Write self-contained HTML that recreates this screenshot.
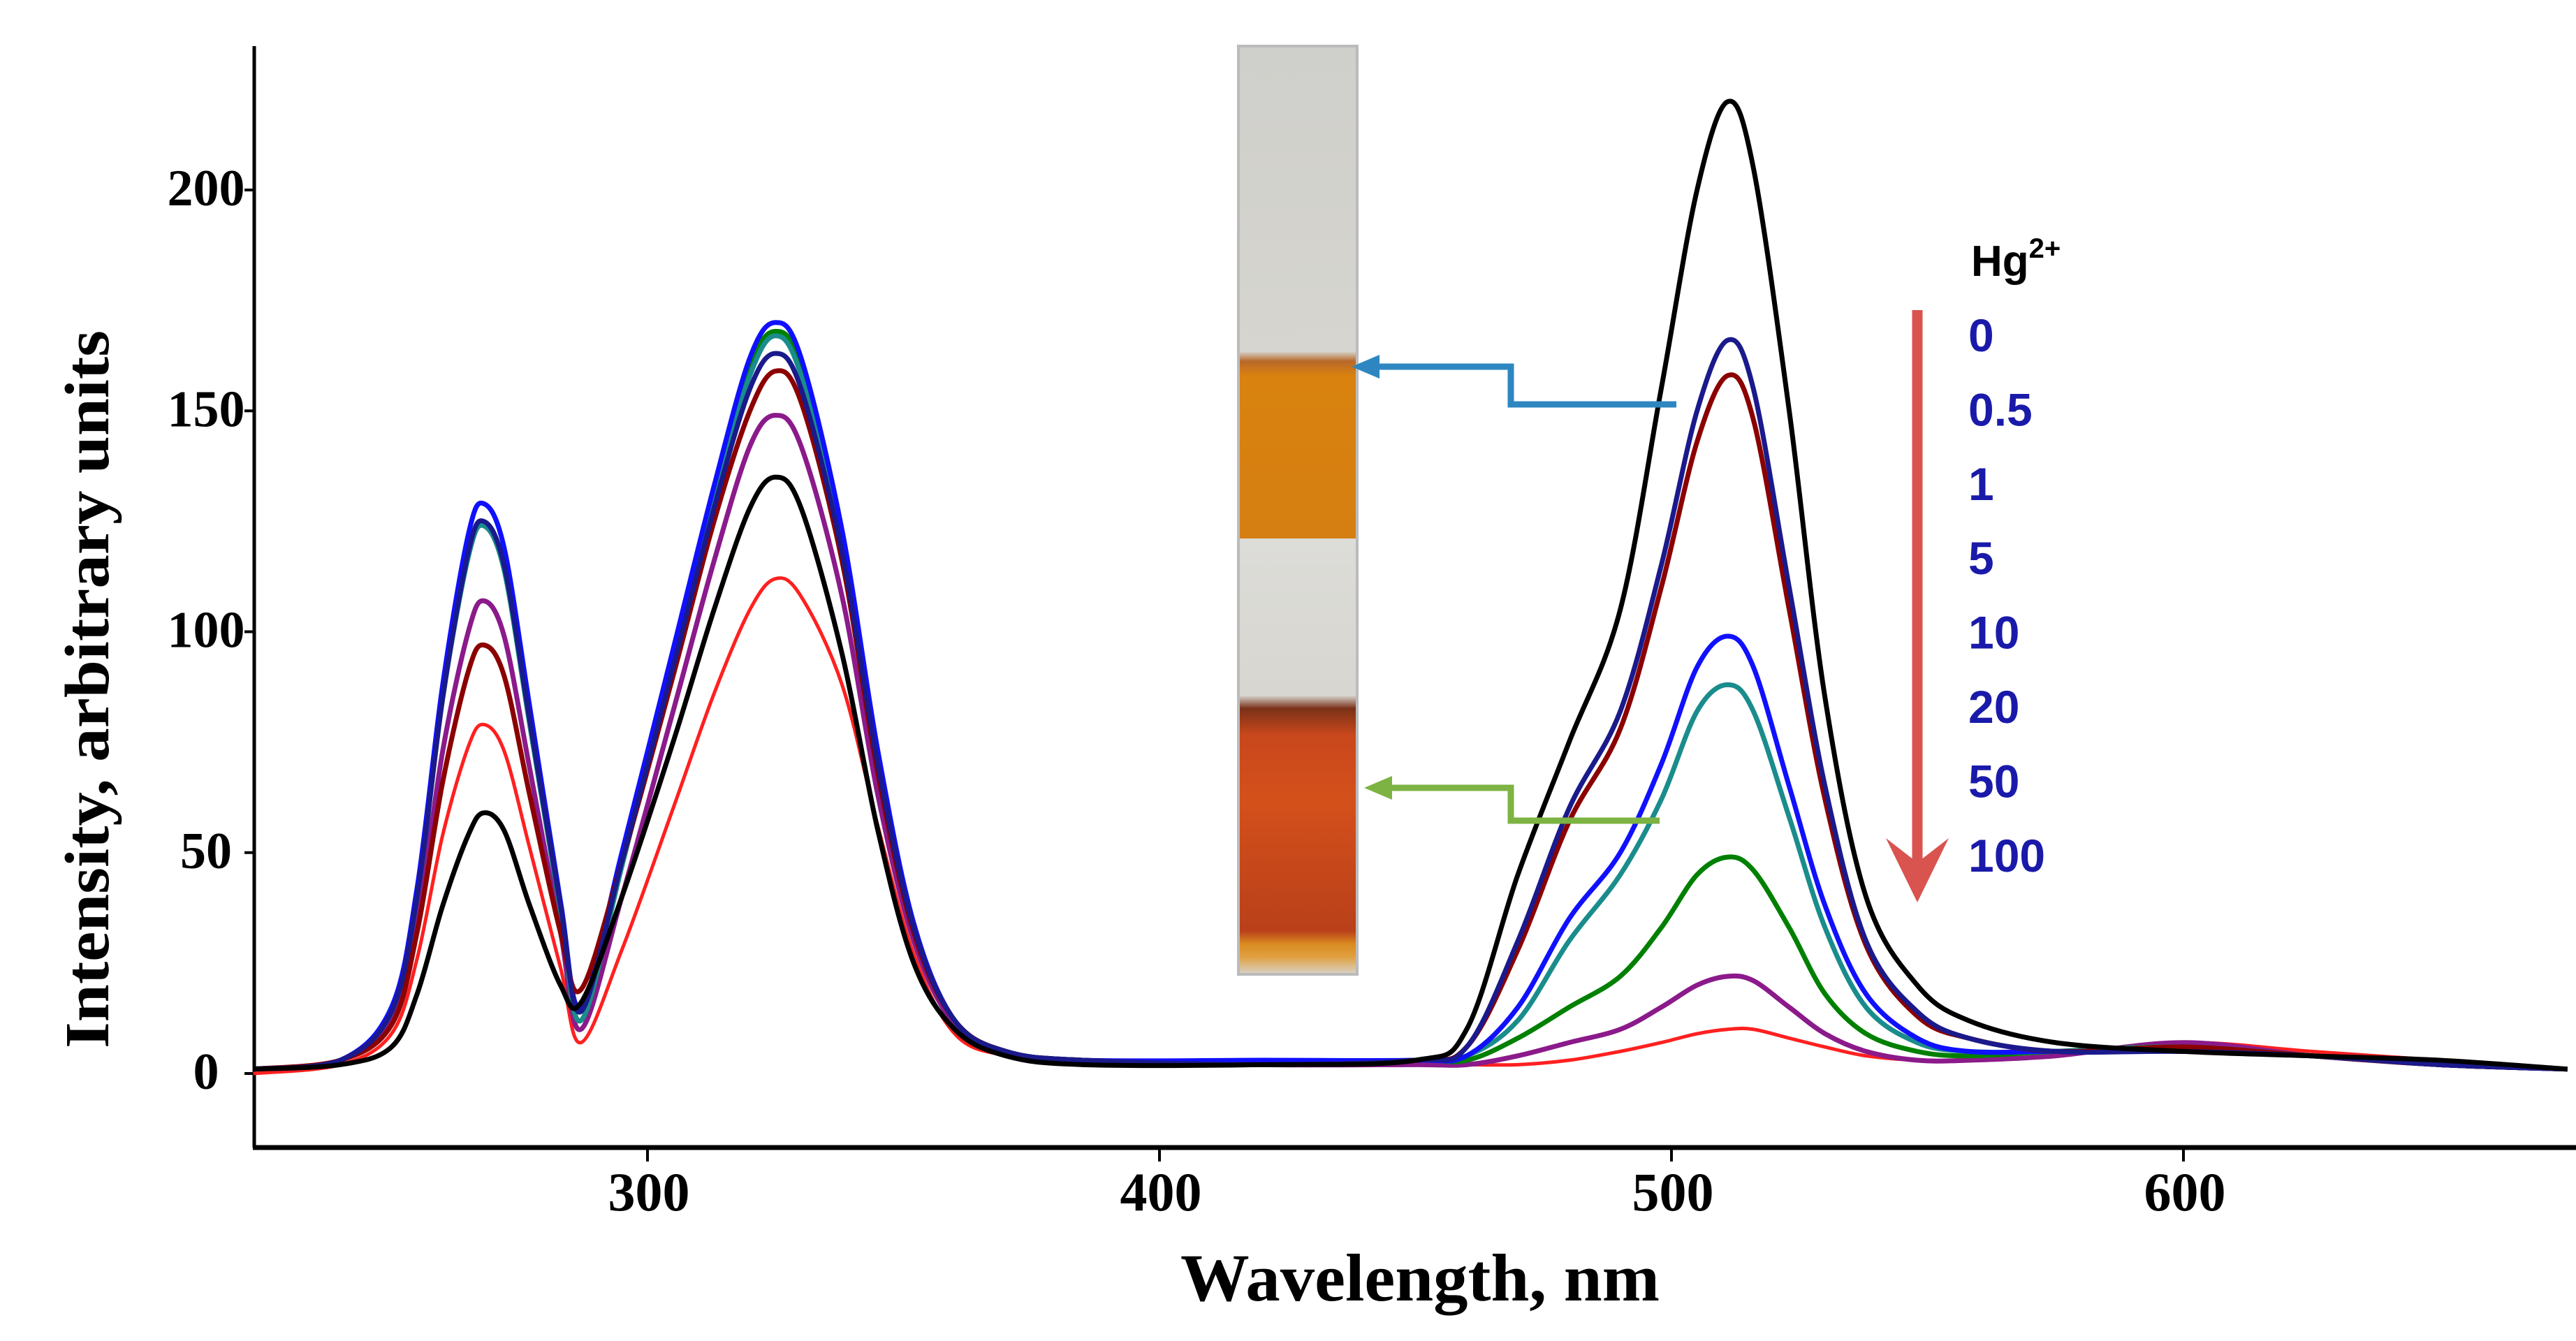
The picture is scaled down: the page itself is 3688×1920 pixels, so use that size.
<!DOCTYPE html>
<html><head><meta charset="utf-8"><style>
html,body{margin:0;padding:0;background:#fff}
svg{display:block}
</style></head><body>
<svg id="chart" width="3688" height="1920" viewBox="0 0 3688 1920" xmlns="http://www.w3.org/2000/svg">
<defs>
<linearGradient id="cuv1" x1="0" y1="0" x2="0" y2="1">
<stop offset="0" stop-color="#cfcfcb"/><stop offset="0.62" stop-color="#d6d5cf"/><stop offset="0.64" stop-color="#b8692a"/><stop offset="0.67" stop-color="#d9820f"/><stop offset="1" stop-color="#d57f12"/></linearGradient>
<linearGradient id="cuv2" x1="0" y1="0" x2="0" y2="1">
<stop offset="0" stop-color="#dcdcd8"/><stop offset="0.36" stop-color="#d8d6d0"/><stop offset="0.39" stop-color="#7a3118"/><stop offset="0.45" stop-color="#c8471c"/><stop offset="0.6" stop-color="#d4501b"/><stop offset="0.9" stop-color="#b9401a"/><stop offset="0.93" stop-color="#d98a20"/><stop offset="0.96" stop-color="#e0a040"/><stop offset="1" stop-color="#d8d4cc"/></linearGradient>
</defs>
<g id="axes"></g>
<g id="series"></g>
<g>
<rect x="1773" y="66" width="170" height="705" fill="url(#cuv1)"/>
<rect x="1773" y="771" width="170" height="624" fill="url(#cuv2)"/>
<rect x="1773" y="66" width="170" height="1329" fill="none" stroke="#bbb" stroke-width="4"/>
</g>
<g fill="none" stroke="#2e86c1" stroke-width="9">
<polyline points="2400,579 2163,579 2163,525 1960,525"/>
<polygon points="1935,525 1975,508 1975,542" fill="#2e86c1" stroke="none"/>
</g>
<g fill="none" stroke="#7cb342" stroke-width="9">
<polyline points="2376,1175 2163,1175 2163,1128 1978,1128"/>
<polygon points="1953,1128 1993,1111 1993,1145" fill="#7cb342" stroke="none"/>
</g>
<g font-family="'Liberation Sans',sans-serif" font-weight="bold">
<text x="2822" y="395" font-size="62" fill="#000">Hg<tspan dy="-26" font-size="40">2+</tspan></text>
<g id="legendvals"></g>
<line x1="2745" y1="444" x2="2745" y2="1240" stroke="#d9534f" stroke-width="15"/>
<polygon points="2700,1200 2745,1292 2790,1200 2745,1235" fill="#d9534f"/>
</g>
</svg>
<script>
const wavelengths=[223,240,250,255,260,265,268,272,277,283,287,295,305,313,320,325,330,338,345,352,360,370,385,420,450,460,470,480,490,498,505,511,516,523,530,538,548,558,575,600,625,650,675];
const s0=[1,2,6,18,38,54,59,55,38,20,16,40,75,105,128,135,128,95,55,25,10,4,2,2,3,10,45,75,105,155,200,220,205,150,85,40,20,12,7,5,4,3,1];
const s05=[1,3,14,40,85,118,125,115,80,38,14,48,92,128,155,163,155,118,70,33,12,5,3,2,3,6,30,60,82,115,150,166,155,110,65,30,14,8,5,5,4,2,1];
const s1=[1,3,11,32,66,91,97,90,63,32,19,48,90,125,150,159,152,116,68,32,12,5,3,2,3,6,28,57,78,110,143,158,148,105,62,29,13,8,5,6,4,2,1];
const s5=[1,3,15,42,88,122,129,119,83,39,15,50,96,133,162,170,162,123,73,34,12,5,3,3,3,4,15,35,50,70,92,99,92,65,38,18,8,5,5,5,4,2,1];
const s10=[1,3,14,40,85,117,124,114,79,37,12,47,93,130,158,167,158,120,71,33,12,5,3,2,3,4,12,30,45,62,82,88,82,58,33,15,7,5,5,6,4,2,1];
const s20=[1,3,14,40,85,117,124,114,79,37,12,47,93,131,160,168,160,121,71,33,12,5,3,2,3,3,8,15,22,33,45,49,46,33,18,9,5,4,5,6,4,2,1];
const s50=[1,3,12,34,73,100,107,99,69,32,10,40,82,116,142,149,142,108,63,30,11,4,3,2,2,2,4,7,10,15,20,22,21,15,9,5,3,3,4,7,4,2,1];
const s100=[0,2,9,26,54,74,79,73,51,24,7,28,60,86,105,112,108,88,56,27,9,4,2,2,2,2,2,3,5,7,9,10,10,8,6,4,3,3,4,7,5,3,1];
const concentrations=["0","0.5","1","5","10","20","50","100"];
const xTicks=[300,400,500,600];
const yTicks=[0,50,100,150,200];

const NS="http://www.w3.org/2000/svg";
const X0=364,X1=3680,Y0=66,YA=1643;
const xs=w=>927+(w-300)*7.33;
const ys=v=>1537-v*6.325;
function mk(tag,attrs,parent){const e=document.createElementNS(NS,tag);for(const k in attrs)e.setAttribute(k,attrs[k]);parent.appendChild(e);return e;}
const axes=document.getElementById('axes');
const yl=mk('line',{x1:X0,y1:Y0,x2:X0,y2:YA,stroke:'#000','stroke-width':5},axes);


const xl=mk('line',{x1:X0-2,y1:YA,x2:X1+8,y2:YA,stroke:'#000','stroke-width':7},axes);


xTicks.forEach(t=>{
 const l=mk('line',{x1:xs(t),y1:YA,x2:xs(t),y2:YA+20,stroke:'#000','stroke-width':4},axes);
 
 
 const tx=mk('text',{x:xs(t)+2,y:1733,'text-anchor':'middle','font-family':"'Liberation Serif',serif",'font-weight':'bold','font-size':78},axes);
 tx.textContent=t;
 
 
});
yTicks.forEach(t=>{
 const l=mk('line',{x1:X0-14,y1:ys(t),x2:X0,y2:ys(t),stroke:'#000','stroke-width':4},axes);
 
 
 const tx=mk('text',{x:295,y:ys(t)+22,'text-anchor':'middle','font-family':"'Liberation Serif',serif",'font-weight':'bold','font-size':74},axes);
 tx.textContent=t;
 
 
});
const xt=mk('text',{x:2033,y:1862,'text-anchor':'middle','font-family':"'Liberation Serif',serif",'font-weight':'bold','font-size':96,textLength:686,lengthAdjust:'spacingAndGlyphs'},axes);
xt.textContent='Wavelength, nm';


const yt=mk('text',{x:0,y:0,'text-anchor':'middle','font-family':"'Liberation Serif',serif",'font-weight':'bold','font-size':90,textLength:1028,lengthAdjust:'spacingAndGlyphs',transform:'translate(155,987) rotate(-90)'},axes);
yt.textContent='Intensity, arbitrary units';



function pathFor(vals){
 const p=wavelengths.map((w,i)=>[xs(w),ys(vals[i])]);
 let d='M'+p[0][0]+','+p[0][1];
 for(let i=0;i<p.length-1;i++){
  const a=p[Math.max(0,i-1)],b=p[i],c=p[i+1],e=p[Math.min(p.length-1,i+2)];
  const c1=[b[0]+(c[0]-a[0])/6,b[1]+(c[1]-a[1])/6],c2=[c[0]-(e[0]-b[0])/6,c[1]-(e[1]-b[1])/6];
  d+=' C'+c1.join(',')+' '+c2.join(',')+' '+c.join(',');
 }
 return d;
}
const series=document.getElementById('series');
const list=[[s100,'#ff2020',5],[s50,'#8b1a8b',7],[s20,'#008000',7],[s10,'#1a8c8c',7],[s5,'#1010ff',7],[s1,'#8b0000',7],[s05,'#1a1a8c',7],[s0,'#000000',7]];
list.forEach(([v,c,w],i)=>{
 const p=mk('path',{d:pathFor(v),fill:'none',stroke:c,'stroke-width':w,'stroke-linejoin':'round'},series);
 
 
});
const lv=document.getElementById('legendvals');
concentrations.forEach((c,i)=>{
 const t=mk('text',{x:2818,y:503+i*106.4,'font-size':66,fill:'#1a1aaa'},lv);
 t.textContent=c;
 
 
});
</script>
</body></html>
